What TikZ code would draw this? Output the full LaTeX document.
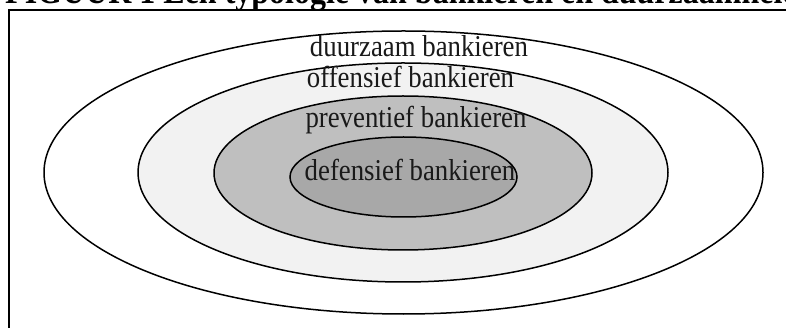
\documentclass[tikz,border=0pt]{standalone}
\usepackage{fontspec}
\setmainfont{Liberation Serif}
\usetikzlibrary{shapes.geometric}
\tikzset{
  ring/.style={ellipse, draw=black, line width=1.5pt, inner sep=0pt, outer sep=0pt},
  lab/.style={anchor=base, inner sep=0pt, font=\fontsize{26.8}{30}\selectfont, text=black!90},
  frameline/.style={line width=2pt, draw=black}
}
\newcommand{\stretchtxt}[1]{\scalebox{1}[1.13]{#1}}
\begin{document}
\begin{tikzpicture}[x=1pt,y=-1pt]
\useasboundingbox (0,0) rectangle (786,328);
\clip (0,0) rectangle (786,328);
\fill[white] (0,0) rectangle (786,328);
% title (cut off at the top in the reference)
\node[anchor=base west, inner sep=0pt, font=\fontsize{32}{35}\selectfont\bfseries] (title) at (5,3.8) {\stretchtxt{FIGUUR 1 Een typologie van bankieren en duurzaamheid}};
% frame
\coordinate (fb) at (8.5,340);
\coordinate (fc) at (8.5,10.5);
\coordinate (fr) at (800,10.5);
\draw[frameline] (fb) -- (fc) -- (fr);
% rings
\node[ring, fill=white, minimum width=719pt, minimum height=283pt] (duurzaam) at (403.5,172.5) {};
\node[ring, fill=black!5, minimum width=530pt, minimum height=219pt] (offensief) at (403,172.5) {};
\node[ring, fill=black!25, minimum width=378pt, minimum height=154pt] (preventief) at (403,173) {};
\node[ring, fill=black!34, minimum width=227pt, minimum height=80pt] (defensief) at (403.5,177) {};
% labels
\node[lab] (tduurzaam) at (419,56.7) {\stretchtxt{duurzaam bankieren}};
\node[lab] (toffensief) at (410.5,88) {\stretchtxt{offensief bankieren}};
\node[lab] (tpreventief) at (416,128) {\stretchtxt{preventief bankieren}};
\node[lab] (tdefensief) at (410,180.7) {\stretchtxt{defensief bankieren}};
\end{tikzpicture}
\end{document}
